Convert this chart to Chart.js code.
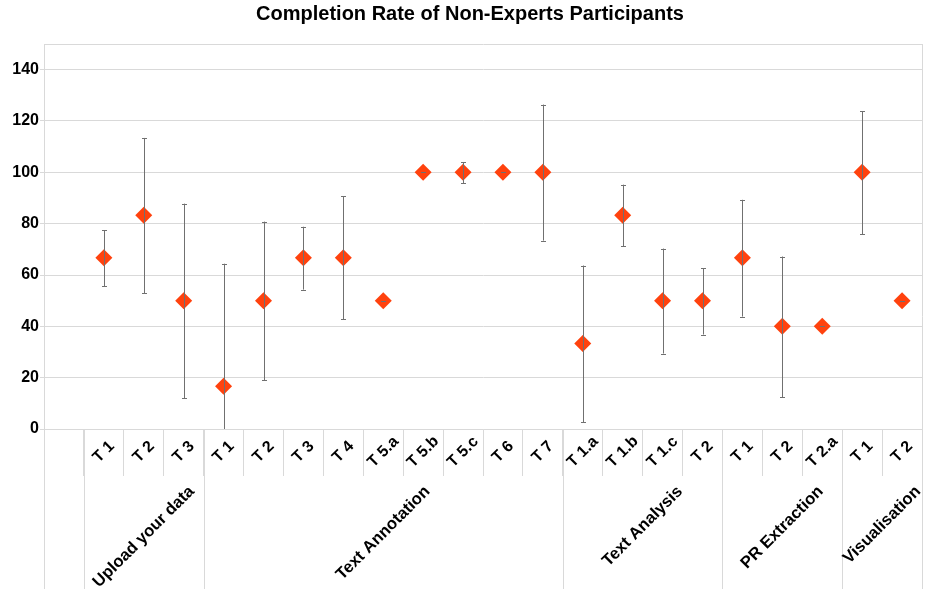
<!DOCTYPE html>
<html>
<head>
<meta charset="utf-8">
<script src="https://cdn.jsdelivr.net/npm/chart.js@4"></script>
<style>
  html, body { margin: 0; padding: 0; background: #fff; }
  #wrap { width: 925px; height: 589px; }
</style>
</head>
<body>
<div id="wrap"><canvas id="chart" width="925" height="589"></canvas></div>
<script>
// Tâches (première case vide, comme dans l'original)
const taches = ['', 'T 1', 'T 2', 'T 3', 'T 1', 'T 2', 'T 3', 'T 4', 'T 5.a', 'T 5.b', 'T 5.c', 'T 6', 'T 7',
                'T 1.a', 'T 1.b', 'T 1.c', 'T 2', 'T 1', 'T 2', 'T 2.a', 'T 1', 'T 2'];
const taux = [null, 66.7, 83.3, 50, 16.7, 50, 66.7, 66.7, 50, 100, 100, 100, 100,
              33.3, 83.3, 50, 50, 66.7, 40, 40, 100, 50];
// bornes des barres d'erreur
const erreurBas  = [null, 55.6, 52.8, 11.9, -31, 18.9, 54.3, 42.7, 50, 100, 95.7, 100, 73.4,
                    2.6, 71.2, 29.4, 36.8, 43.8, 12.4, 40, 75.8, 50];
const erreurHaut = [null, 77.4, 113.4, 87.8, 64.4, 80.8, 78.8, 90.6, 50, 100, 104, 100, 126.4,
                    63.7, 95.2, 70.3, 62.7, 89.3, 67.2, 40, 123.8, 50];
const groupes = ['Upload your data', 'Text Annotation', 'Text Analysis', 'PR Extraction', 'Visualisation'];
const tailleGroupes = [3, 9, 4, 3, 2];
const titre = 'Completion Rate of Non-Experts Participants';

const GRIS = '#d9d9d9';
const POLICE = '"Liberation Sans", Arial, sans-serif';

const barresErreur = {
    id: 'barresErreur',
    afterDatasetsDraw(chart) {
        const ctx = chart.ctx, x = chart.scales.x, y = chart.scales.y, a = chart.chartArea;
        ctx.save();
        ctx.beginPath();
        ctx.rect(a.left, a.top, a.right - a.left, a.bottom - a.top);
        ctx.clip();
        ctx.strokeStyle = '#707070';
        ctx.lineWidth = 1;
        for (let i = 0; i < taux.length; i++) {
            if (taux[i] === null) continue;
            const px = Math.round(x.getPixelForValue(i)) + 0.5;
            const y1 = y.getPixelForValue(erreurBas[i]);
            const y2 = y.getPixelForValue(erreurHaut[i]);
            ctx.beginPath();
            ctx.moveTo(px, y1); ctx.lineTo(px, y2);
            ctx.moveTo(px - 2.5, Math.round(y1) + 0.5); ctx.lineTo(px + 2.5, Math.round(y1) + 0.5);
            ctx.moveTo(px - 2.5, Math.round(y2) + 0.5); ctx.lineTo(px + 2.5, Math.round(y2) + 0.5);
            ctx.stroke();
        }
        ctx.restore();
    }
};

const etiquettes = {
    id: 'etiquettes',
    afterDraw(chart) {
        const ctx = chart.ctx, x = chart.scales.x, a = chart.chartArea;
        const bas = chart.height;
        const demi = (x.getPixelForValue(1) - x.getPixelForValue(0)) / 2;
        ctx.save();
        // cadre et séparateurs de groupes
        ctx.strokeStyle = GRIS;
        ctx.lineWidth = 1;
        ctx.beginPath();
        [a.left, a.right].forEach(lx => {
            const px = Math.round(lx) + 0.5;
            ctx.moveTo(px, a.top); ctx.lineTo(px, bas);
        });
        let debut = 1;
        const bornes = [];
        tailleGroupes.forEach(n => {
            const g = x.getPixelForValue(debut) - demi;
            const d = x.getPixelForValue(debut + n - 1) + demi;
            const px = Math.round(g) + 0.5;
            ctx.moveTo(px, a.bottom); ctx.lineTo(px, bas);
            bornes.push([g, d]);
            debut += n;
        });
        ctx.stroke();

        // titre
        ctx.fillStyle = '#000';
        ctx.textAlign = 'center';
        ctx.textBaseline = 'middle';
        ctx.font = 'bold 20px ' + POLICE;
        ctx.fillText(titre, 470, 14);

        // étiquettes des tâches
        ctx.font = 'bold 16px ' + POLICE;
        for (let i = 1; i < taches.length; i++) {
            ctx.save();
            ctx.translate(x.getPixelForValue(i), 452);
            ctx.rotate(-Math.PI / 4);
            ctx.fillText(taches[i], 0, 0);
            ctx.restore();
        }

        // noms des groupes
        ctx.font = 'bold 16.6px ' + POLICE;
        groupes.forEach((nom, k) => {
            const cx = (bornes[k][0] + bornes[k][1]) / 2;
            const w = ctx.measureText(nom).width;
            const cy = 484 + (w + 14) / (2 * Math.SQRT2);
            ctx.save();
            ctx.translate(cx, cy);
            ctx.rotate(-Math.PI / 4);
            ctx.fillText(nom, 0, 0);
            ctx.restore();
        });
        ctx.restore();
    }
};

new Chart(document.getElementById('chart').getContext('2d'), {
    type: 'line',
    data: {
        labels: taches,
        datasets: [{
            label: 'Completion rate',
            data: taux,
            showLine: false,
            pointStyle: 'rectRot',
            pointRadius: 8.5,
            pointHoverRadius: 8.5,
            pointBackgroundColor: '#ff420e',
            pointBorderColor: '#ff420e',
            pointBorderWidth: 0
        }]
    },
    options: {
        responsive: false,
        animation: false,
        events: [],
        layout: { autoPadding: false, padding: { left: 0, right: 3, top: 44, bottom: 0 } },
        plugins: {
            legend: { display: false },
            tooltip: { enabled: false },
            title: { display: false }
        },
        scales: {
            x: {
                type: 'category',
                offset: true,
                grid: {
                    offset: true,
                    drawOnChartArea: false,
                    drawTicks: true,
                    tickLength: 47,
                    color: GRIS,
                    tickColor: GRIS
                },
                border: { display: true, color: GRIS },
                ticks: { display: false, autoSkip: false },
                afterFit: s => { s.height = 160; }
            },
            y: {
                min: 0,
                max: 150,
                grid: {
                    color: GRIS,
                    tickLength: 4,
                    tickColor: c => (c.tick && c.tick.value > 140 ? 'rgba(0,0,0,0)' : GRIS)
                },
                border: { display: true, color: GRIS },
                ticks: {
                    stepSize: 20,
                    padding: 1,
                    color: '#000',
                    font: { family: POLICE, size: 16, weight: 'bold' },
                    callback: v => (v > 140 ? '' : v)
                },
                afterFit: s => { s.width = 44; }
            }
        }
    },
    plugins: [barresErreur, etiquettes]
});
</script>
</body>
</html>
